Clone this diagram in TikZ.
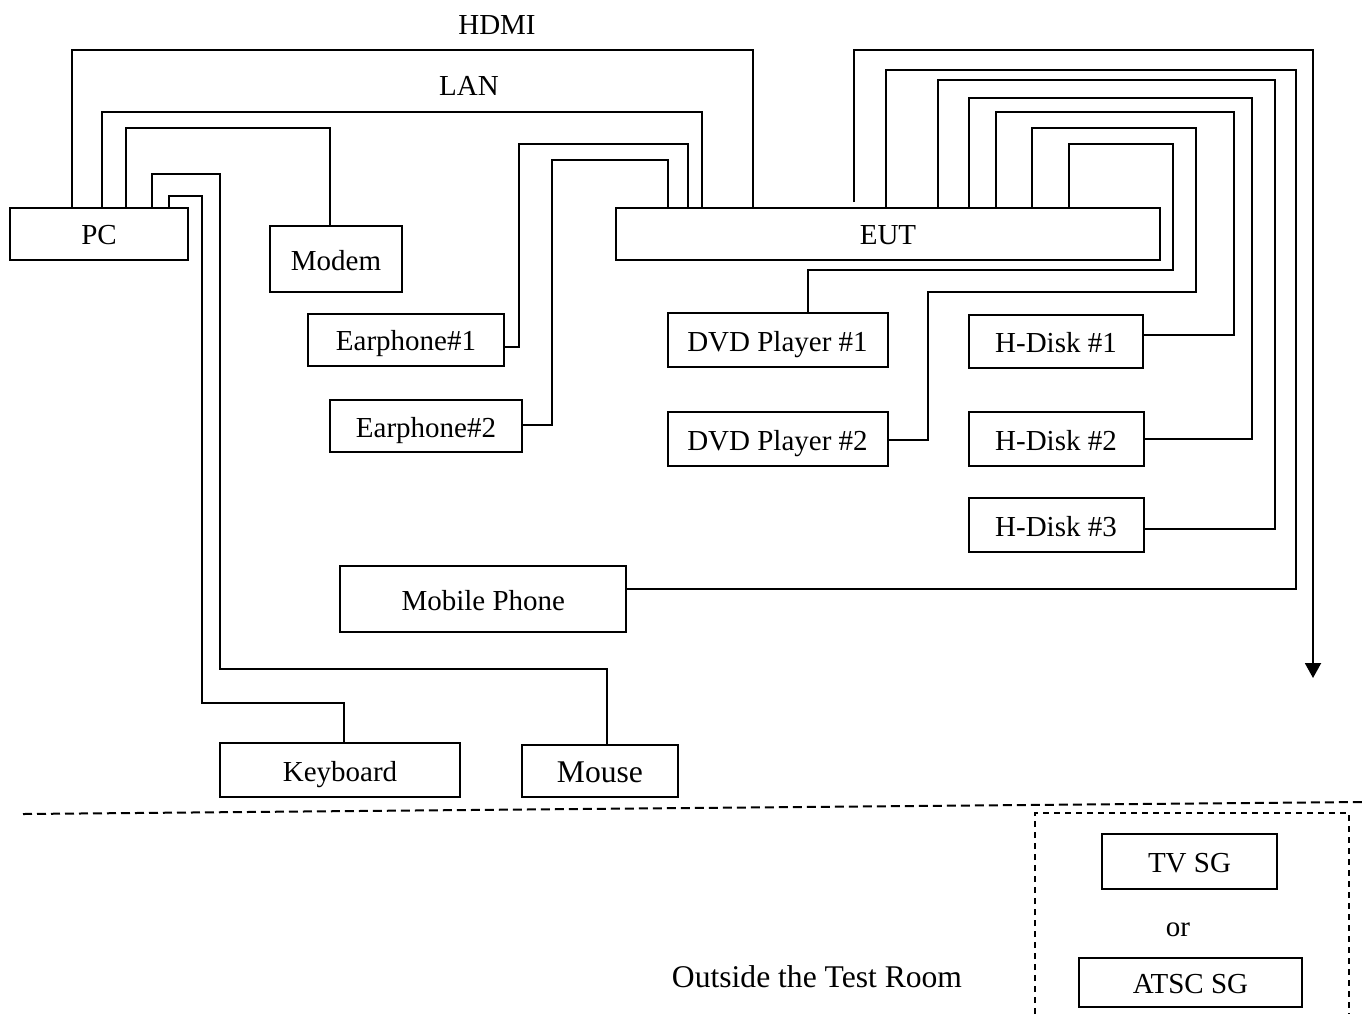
\documentclass[tikz,border=0pt]{standalone}
\usepackage{fontspec}
\setmainfont{Liberation Serif}
\usetikzlibrary{arrows.meta}
\tikzset{
  dev/.style    ={draw, rectangle, inner sep=0pt, line width=1pt, text height=11pt, text depth=0pt,
                  font=\fontsize{14.5}{17}\selectfont},
  wire/.style   ={line width=1pt},
  feed/.style   ={line width=1pt, -{Triangle[length=7.5pt, width=8pt]}},
  lbl/.style    ={inner sep=0pt, font=\fontsize{14.5}{17}\selectfont},
  biglbl/.style ={inner sep=0pt, font=\fontsize{15.8}{19}\selectfont},
  roomline/.style={line width=1pt, dash pattern=on 4.5pt off 2.5pt},
  sgframe/.style={line width=1pt, dash pattern=on 3pt off 2.5pt},
}

\begin{document}
\begin{tikzpicture}[x=0.5pt, y=-0.5pt]
  \useasboundingbox (0,0) rectangle (1370,1014);

  % devices inside the room
  \node[dev, minimum width=89pt,  minimum height=26pt] (pc)     at (99,233.5)   {PC};
  \node[dev, minimum width=66pt,  minimum height=33pt] (modem)  at (336,259)    {Modem};
  \node[dev, minimum width=98pt,  minimum height=26pt] (ear1)   at (406,339.5)  {Earphone\#1};
  \node[dev, minimum width=96pt,  minimum height=26pt] (ear2)   at (426,426)    {Earphone\#2};
  \node[dev, minimum width=143pt, minimum height=33pt] (mobile) at (483.3,599)  {Mobile Phone};
  \node[dev, minimum width=272pt, minimum height=26pt] (eut)    at (888,233.5)  {EUT};
  \node[dev, minimum width=110pt, minimum height=27pt] (dvd1)   at (777.5,340.3){DVD Player \#1};
  \node[dev, minimum width=110pt, minimum height=27pt] (dvd2)   at (777.5,439.2){DVD Player \#2};
  \node[dev, minimum width=87pt,  minimum height=26.5pt] (hd1)  at (1056,341.5)  {H-Disk \#1};
  \node[dev, minimum width=87.5pt,minimum height=27pt] (hd2)    at (1056,439)   {H-Disk \#2};
  \node[dev, minimum width=87.5pt,minimum height=27pt] (hd3)    at (1056,525)   {H-Disk \#3};
  \node[dev, minimum width=120pt, minimum height=27pt] (kbd)    at (340,770)    {Keyboard};
  \node[dev, minimum width=78pt,  minimum height=26pt, font=\fontsize{15.8}{19}\selectfont] (mouse) at (600,771) {Mouse};

  \node[lbl] (hdmi) at (497,25) {HDMI};
  \node[lbl] (lan)  at (469,86) {LAN};

  % PC cables
  \draw[wire] (72,0 |- pc.north)  |- (753,50)  -- (753,0 |- eut.north);
  \draw[wire] (102,0 |- pc.north) |- (702,112) -- (702,0 |- eut.north);
  \draw[wire] (126,0 |- pc.north) |- (330,128) -- (330,0 |- modem.north);
  \draw[wire] (152,0 |- pc.north) |- (220,174) |- (607,669) -- (607,0 |- mouse.north);
  \draw[wire] (169,0 |- pc.north) |- (202,196) |- (344,703) -- (344,0 |- kbd.north);

  % earphones
  \draw[wire] (ear1.east |- 0,347) -| (519,144) -| (688,0 |- eut.north);
  \draw[wire] (ear2.east |- 0,425) -| (552,160) -| (668,0 |- eut.north);

  % EUT cables on the right
  \coordinate (ant) at (854,202);
  \coordinate (out) at (1313,678);
  \draw[feed] (ant) |- (1313,50) -- (out);
  \draw[wire] (886,0 |- eut.north)  |- (1296,70)  |- (mobile.east |- 0,589);
  \draw[wire] (938,0 |- eut.north)  |- (1275,80)  |- (hd3.east |- 0,529);
  \draw[wire] (969,0 |- eut.north)  |- (1252,98)  |- (hd2.east |- 0,439);
  \draw[wire] (996,0 |- eut.north)  |- (1234,112) |- (hd1.east |- 0,335);
  \draw[wire] (1032,0 |- eut.north) |- (1196,128) |- (928,292) |- (dvd2.east |- 0,440);
  \draw[wire] (1069,0 |- eut.north) |- (1173,144) |- (808,270) -- (808,0 |- dvd1.north);

  % outside the room
  \draw[roomline] (23,814) -- (1362,802);
  \draw[sgframe] (1035,1014) |- (1349,813) -- (1349,1014);
  \node[dev, minimum width=87.5pt,  minimum height=27.5pt] (tvsg) at (1189.5,861.5) {TV SG};
  \node[lbl] (or) at (1178,930) {or};
  \node[dev, minimum width=111.5pt, minimum height=24.5pt] (atsc) at (1190.5,982.5) {ATSC SG};
  \node[biglbl] (outside) at (817,977) {Outside the Test Room};
\end{tikzpicture}
\end{document}
